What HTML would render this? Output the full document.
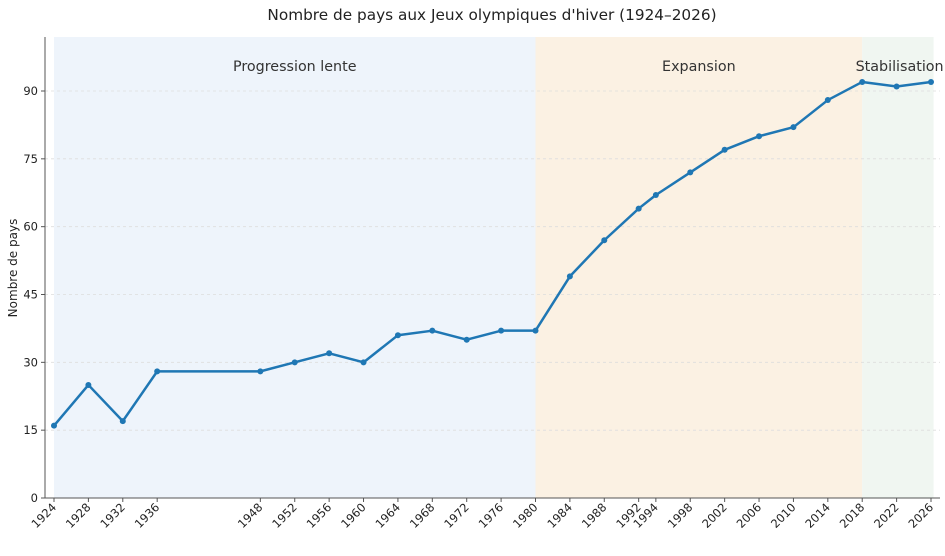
<!DOCTYPE html>
<html><head><meta charset="utf-8"><style>
body{margin:0;background:#fff;font-family:"Liberation Sans","DejaVu Sans",sans-serif}
svg text{font-family:"DejaVu Sans","Liberation Sans",sans-serif}
</style></head><body>
<svg id="chart" width="945" height="551" xmlns="http://www.w3.org/2000/svg">
<text x="492" y="20" text-anchor="middle" font-size="15.3" fill="#222">Nombre de pays aux Jeux olympiques d'hiver (1924–2026)</text>
<text transform="translate(17,268) rotate(-90)" text-anchor="middle" font-size="12" fill="#222">Nombre de pays</text>
<g id="regions"></g><g id="grid"></g><g id="series"></g><g id="axes"></g>
</svg>
<script>
const years=[1924,1928,1932,1936,1948,1952,1956,1960,1964,1968,1972,1976,1980,1984,1988,1992,1994,1998,2002,2006,2010,2014,2018,2022,2026];
const countries=[16,25,17,28,28,30,32,30,36,37,35,37,37,49,57,64,67,72,77,80,82,88,92,91,92];
const yTicks=[0,15,30,45,60,75,90];
const regionNames=["Progression lente","Expansion","Stabilisation"];
const regionStarts=[1924,1980,2018];
const regionEnds=[1980,2018,2026.3];
const regionColors=["#eef4fb","#fbf1e3","#f0f6f1"];
const NS="http://www.w3.org/2000/svg";
const X0=45,X1=940,Y0=498,Y1=37;
const xs=y=>54+(y-1924)*(931-54)/102;
const ys=v=>498-v*(498-91)/90;
function mk(t,a,p){const e=document.createElementNS(NS,t);for(const k in a)e.setAttribute(k,a[k]);p.appendChild(e);return e;}
const R=document.getElementById('regions'),G=document.getElementById('grid'),S=document.getElementById('series'),A=document.getElementById('axes');
regionNames.forEach((n,i)=>{
 const r=mk('rect',{x:xs(regionStarts[i]),y:Y1,width:xs(regionEnds[i])-xs(regionStarts[i]),height:Y0-Y1,fill:regionColors[i]},R);
 
 
 const t=mk('text',{x:(xs(regionStarts[i])+xs(Math.min(regionEnds[i],2026)))/2+(i==2?3:0),y:71,'text-anchor':'middle','font-size':14.3,fill:'#333'},R);
 t.textContent=n;
 
 
});
yTicks.forEach(v=>{
 if(v>0){const g=mk('line',{x1:X0,x2:X1,y1:ys(v),y2:ys(v),stroke:'#ddd','stroke-dasharray':'3,3','stroke-width':0.8},G);
 
 }
 mk('line',{x1:X0-4,x2:X0,y1:ys(v),y2:ys(v),stroke:'#555'},A);
 const t=mk('text',{x:X0-7,y:ys(v)+4,'text-anchor':'end','font-size':11.5,fill:'#222'},A);
 t.textContent=v;
 
 
});
mk('line',{x1:X0,x2:X0,y1:Y1,y2:Y0,stroke:'#555'},A);
mk('line',{x1:X0,x2:X1,y1:Y0,y2:Y0,stroke:'#555'},A);
years.forEach(y=>{
 mk('line',{x1:xs(y),x2:xs(y),y1:Y0,y2:Y0+4,stroke:'#555'},A);
 const t=mk('text',{transform:`translate(${xs(y)+3},${Y0+10}) rotate(-45)`,'text-anchor':'end','font-size':11.5,fill:'#222'},A);
 t.textContent=y;
 
 
});
const line=mk('polyline',{points:years.map((y,i)=>xs(y)+','+ys(countries[i])).join(' '),fill:'none',stroke:'#1f77b4','stroke-width':2.5,'stroke-linejoin':'round'},S);


years.forEach((y,i)=>{
 const c=mk('circle',{cx:xs(y),cy:ys(countries[i]),r:3,fill:'#1f77b4'},S);
 
 
});
</script>
</body></html>
